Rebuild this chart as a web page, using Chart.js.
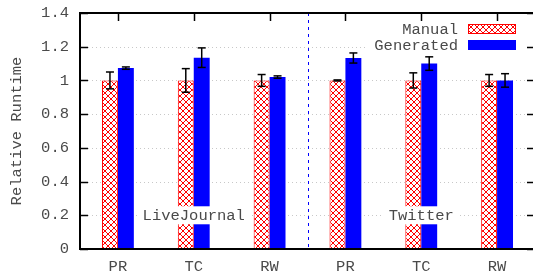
<!DOCTYPE html>
<html><head><meta charset="utf-8">
<script src="https://cdn.jsdelivr.net/npm/chart.js@4/dist/chart.umd.min.js"></script>
<style>html,body{margin:0;padding:0;overflow:hidden;background:#fff}canvas{display:block}</style>
</head><body>
<canvas id="c" width="540" height="275"></canvas>
<script>
const categories = ['PR','TC','RW','PR','TC','RW'];
const manual = [1, 1, 1, 1, 1, 1];
const manualErr = [0.05, 0.07, 0.035, 0.003, 0.045, 0.035];
const generated = [1.073, 1.135, 1.02, 1.133, 1.1, 1.0];
const generatedErr = [0.007, 0.058, 0.007, 0.03, 0.04, 0.04];
const yTicks = [0, 0.2, 0.4, 0.6, 0.8, 1, 1.2, 1.4];
const groups = ['LiveJournal', 'Twitter'];
const groupAt = [1, 4];
const seriesNames = ['Manual', 'Generated'];

const FONT = '15.5px "Liberation Mono", "DejaVu Sans Mono", monospace';
const TXT = '#4a4a4a';

function hatch(){
  const s = 6, p = document.createElement('canvas');
  p.width = s; p.height = s;
  const g = p.getContext('2d');
  g.fillStyle = '#fff'; g.fillRect(0,0,s,s);
  g.strokeStyle = '#ff0000'; g.lineWidth = 1;
  g.beginPath();
  g.moveTo(0,0); g.lineTo(s,s);
  g.moveTo(s,0); g.lineTo(0,s);
  g.stroke();
  return document.getElementById('c').getContext('2d').createPattern(p,'repeat');
}
const hatchPattern = hatch();

function line(ctx,x1,y1,x2,y2){ctx.beginPath();ctx.moveTo(x1,y1);ctx.lineTo(x2,y2);ctx.stroke();}

const decor = {
  id: 'decor',
  beforeDatasetsDraw(chart){
    const {ctx, chartArea:a, scales:{x,y}} = chart;
    ctx.save();
    ctx.strokeStyle = '#c8c8c8'; ctx.lineWidth = 1; ctx.setLineDash([1,3]);
    yTicks.forEach(v => {
      if (v <= 0 || v >= 1.4) return;
      const py = Math.round(y.getPixelForValue(v)) + 0.5;
      line(ctx, a.left, py, a.right, py);
    });
    ctx.strokeStyle = '#0000ff'; ctx.setLineDash([3,4]);
    const sx = Math.round((x.getPixelForValue(2) + x.getPixelForValue(3)) / 2) + 0.5;
    line(ctx, sx, a.top, sx, a.bottom);
    ctx.restore();
  },
  afterDatasetsDraw(chart){
    const {ctx, chartArea:a, scales:{x,y}} = chart;
    ctx.save();
    ctx.strokeStyle = '#000'; ctx.lineWidth = 1.5;
    [[0, manual, manualErr], [1, generated, generatedErr]].forEach(([di, vals, errs]) => {
      const meta = chart.getDatasetMeta(di);
      meta.data.forEach((bar, i) => {
        const cx = bar.x;
        const t = y.getPixelForValue(vals[i] + errs[i]);
        const b = y.getPixelForValue(vals[i] - errs[i]);
        line(ctx, cx, t, cx, b);
        line(ctx, cx - 4, t, cx + 4, t);
        line(ctx, cx - 4, b, cx + 4, b);
      });
    });
    ctx.font = FONT; ctx.textAlign = 'center'; ctx.textBaseline = 'middle';
    groups.forEach((g, i) => {
      const cx = x.getPixelForValue(groupAt[i]);
      const cy = y.getPixelForValue(0.2);
      const w = ctx.measureText(g).width + 10;
      ctx.fillStyle = '#fff'; ctx.fillRect(cx - w/2, cy - 9, w, 18);
      ctx.fillStyle = TXT; ctx.fillText(g, cx, cy + 1);
    });
    ctx.fillStyle = '#fff'; ctx.fillRect(a.right - 168, a.top + 7, 158, 35);
    const sw = [hatchPattern, '#0000ff'];
    seriesNames.forEach((n, i) => {
      const top = a.top + 11 + i * 16;
      ctx.fillStyle = sw[i]; ctx.fillRect(a.right - 67, top, 48, 10);
      if (i === 0){ ctx.strokeStyle = '#ff0000'; ctx.lineWidth = 1; ctx.strokeRect(a.right - 66.5, top + 0.5, 47, 9); }
      ctx.fillStyle = TXT; ctx.textAlign = 'right';
      ctx.fillText(n, a.right - 77, top + 5.5);
    });
    ctx.strokeStyle = '#000'; ctx.lineWidth = 1.5;
    yTicks.forEach(v => {
      const py = Math.round(y.getPixelForValue(v)) + 0.5;
      line(ctx, a.left, py, a.left + 8, py);
      line(ctx, a.right - 8, py, a.right, py);
    });
    categories.forEach((c, i) => {
      const px = Math.round(x.getPixelForValue(i)) + 0.5;
      line(ctx, px, a.top, px, a.top + 8);
    });
    ctx.lineWidth = 2;
    ctx.strokeRect(a.left, a.top, a.right - a.left, a.bottom - a.top);
    ctx.restore();
  }
};

new Chart(document.getElementById('c'), {
  type: 'bar',
  data: {
    labels: categories,
    datasets: [
      {label: seriesNames[0], data: manual, backgroundColor: hatchPattern, borderColor: '#ff0000', borderWidth: 1},
      {label: seriesNames[1], data: generated, backgroundColor: '#0000ff', borderWidth: 0}
    ]
  },
  options: {
    responsive: false, animation: false, devicePixelRatio: 1,
    layout: {padding: {left: 0, right: 5, top: 13, bottom: 0}},
    datasets: {bar: {categoryPercentage: 0.42, barPercentage: 1}},
    plugins: {legend: {display: false}, tooltip: {enabled: false}},
    scales: {
      x: {
        grid: {display: false, drawTicks: false}, border: {display: false},
        ticks: {font: {family: '"Liberation Mono", monospace', size: 15.5}, color: TXT, padding: 9, maxRotation: 0},
        afterFit(s){ s.height = 26; s.paddingLeft = 0; s.paddingRight = 0; }
      },
      y: {
        min: 0, max: 1.4,
        grid: {display: false, drawTicks: false}, border: {display: false},
        ticks: {stepSize: 0.2, font: {family: '"Liberation Mono", monospace', size: 15.5}, color: TXT, padding: 11,
          callback: v => String(Math.round(v * 10) / 10)},
        title: {display: true, text: 'Relative Runtime', font: {family: '"Liberation Mono", monospace', size: 15.5}, color: TXT, padding: {top: 8, bottom: 0}},
        afterFit(s){ s.width = 80; s.paddingTop = 0; s.paddingBottom = 0; }
      }
    }
  },
  plugins: [decor]
});
</script>
</body></html>
